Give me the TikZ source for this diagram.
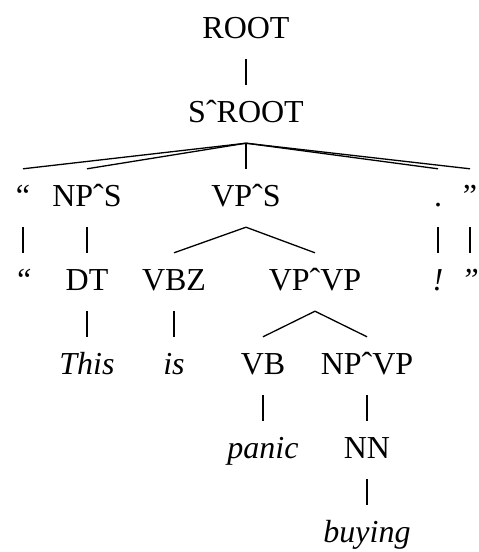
\documentclass[tikz,border=0pt]{standalone}
\usepackage{fontspec}
\setmainfont{Liberation Serif}

\tikzset{
  tag/.style={anchor=base, inner xsep=1pt, inner ysep=16pt,
    text height=21pt, text depth=5pt,
    font=\fontsize{32pt}{38pt}\selectfont},
  word/.style={tag, font=\fontsize{32pt}{38pt}\selectfont\itshape},
  branch/.style={line width=1.3pt}
}

\begin{document}
\begin{tikzpicture}[x=1pt, y=-1pt]
  \useasboundingbox (0,0) rectangle (479,552);
  % Top of the tree
  \node[tag] (root) at (246,38) {ROOT};
  \node[tag] (sroot) at (246,122) {SˆROOT};
  % Phrases under S
  \node[tag] (lq) at (23,206) {“};
  \node[tag] (nps) at (87,206) {NPˆS};
  \node[tag] (vps) at (246,206) {VPˆS};
  \node[tag] (dot) at (438,206) {.};
  \node[tag] (rq) at (470,206) {”};
  % Preterminals and inner VP
  \node[word] (lqw) at (23,290) {“};
  \node[tag] (dt) at (87,290) {DT};
  \node[tag] (vbz) at (174,290) {VBZ};
  \node[tag] (vpvp) at (315,290) {VPˆVP};
  \node[word] (excl) at (438,290) {!};
  \node[word] (rqw) at (470,290) {”};
  % Words and lower VP
  \node[word] (this) at (87,374) {This};
  \node[word] (is) at (174,374) {is};
  \node[tag] (vb) at (263,374) {VB};
  \node[tag] (npvp) at (367,374) {NPˆVP};
  \node[word] (panic) at (263,458) {panic};
  \node[tag] (nn) at (367,458) {NN};
  \node[word] (buying) at (367,542) {buying};
  % Branches
  \foreach \a/\b in {root/sroot, sroot/lq, sroot/nps, sroot/vps, sroot/dot, sroot/rq,
      lq/lqw, nps/dt, vps/vbz, vps/vpvp, dot/excl, rq/rqw,
      dt/this, vbz/is, vpvp/vb, vpvp/npvp, vb/panic, npvp/nn, nn/buying}
    \draw[branch] (\a.south) -- (\b.north);
\end{tikzpicture}
\end{document}
